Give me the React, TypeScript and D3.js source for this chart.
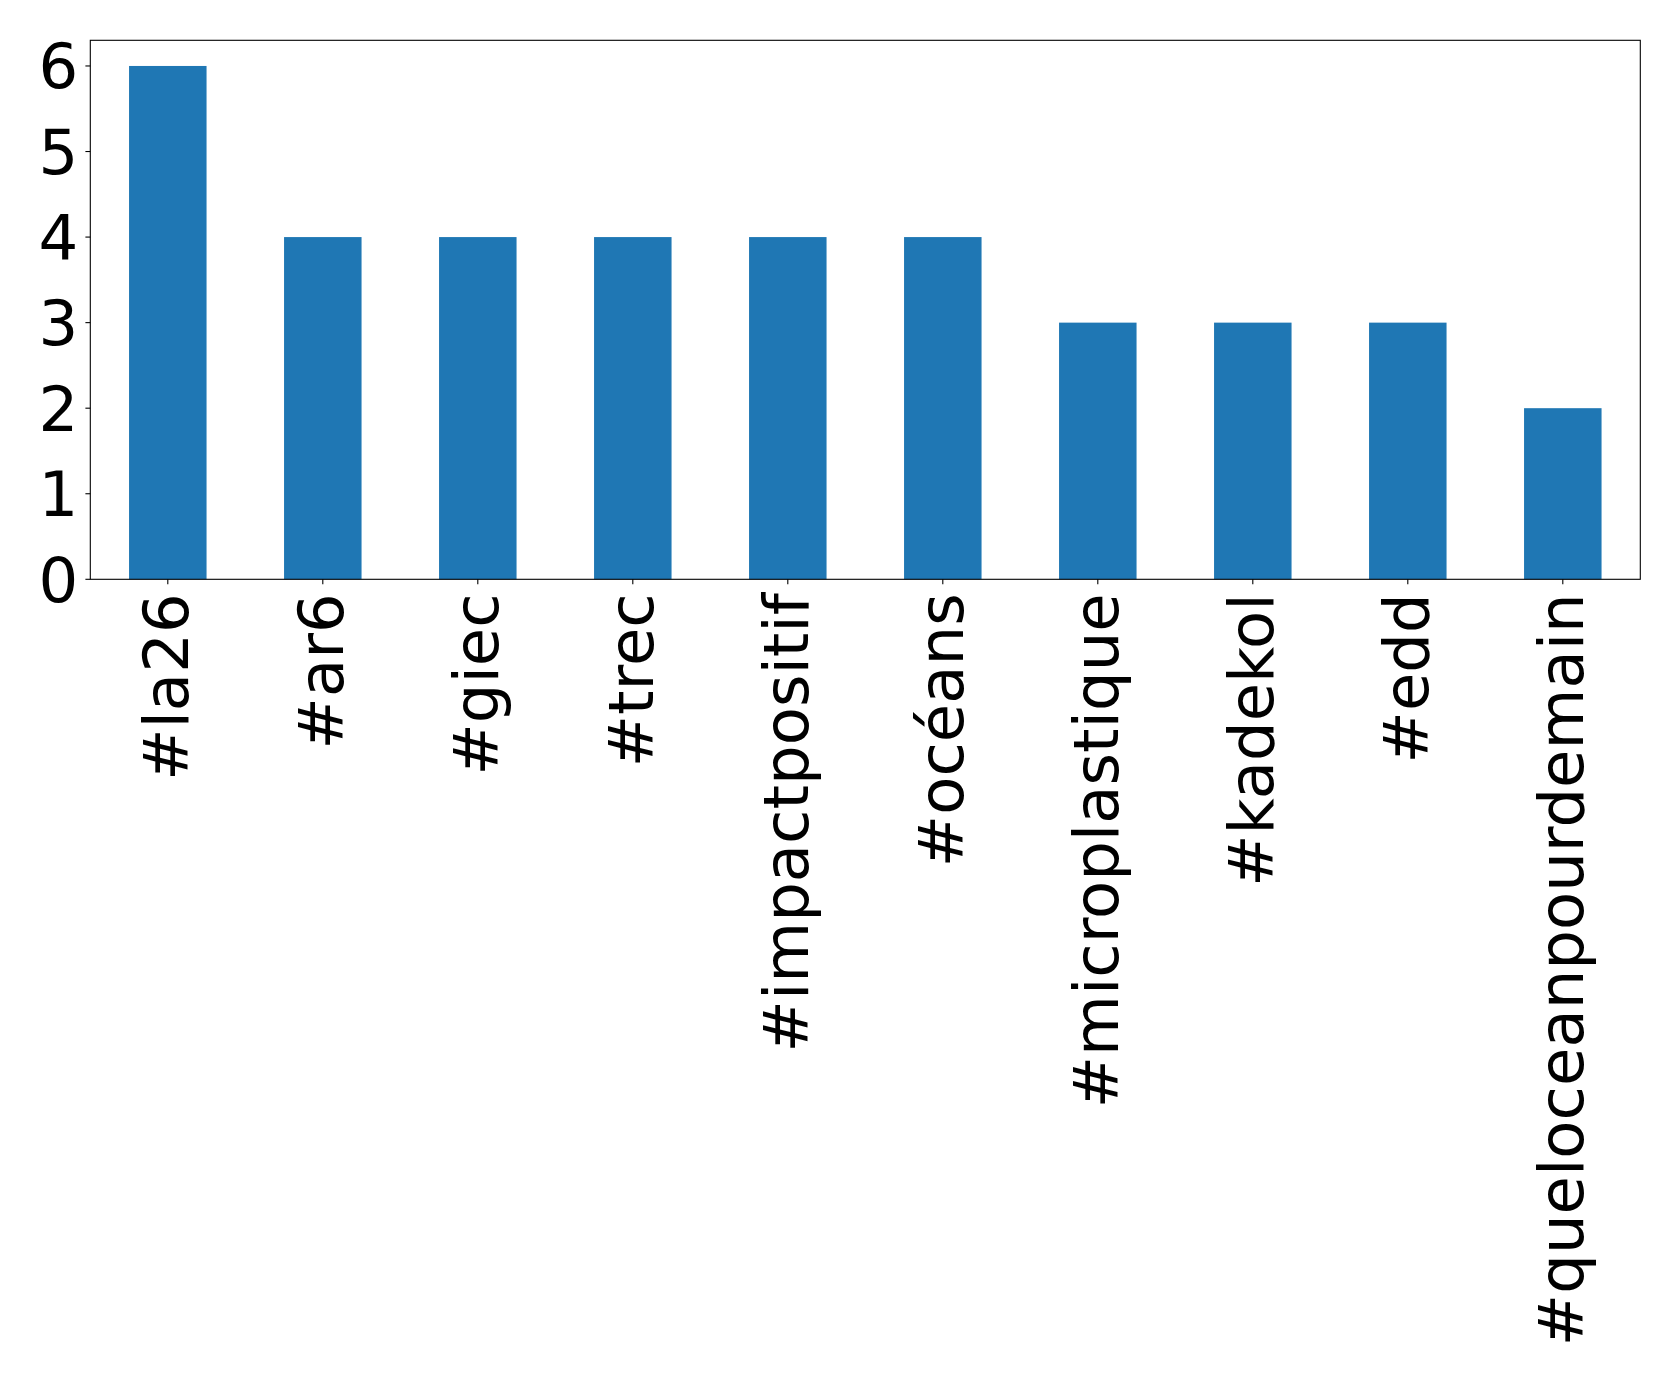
import React from "react";
import * as d3 from "d3";

const categories = ["#la26", "#ar6", "#giec", "#trec", "#impactpositif", "#océans", "#microplastique", "#kadekol", "#edd", "#queloceanpourdemain"];
const values = [6, 4, 4, 4, 4, 4, 3, 3, 3, 2];
const yTicks = [0, 1, 2, 3, 4, 5, 6];

const W = 1679, H = 1381;
const left = 90.3, right = 1640.3, top = 40.3, bottom = 579.3;
const FONT = "DejaVu Sans, sans-serif";
const FS = 62.5;

export default function App() {
  const x = d3.scaleLinear().domain([-0.5, categories.length - 0.5]).range([left, right]);
  const y = d3.scaleLinear().domain([0, 6.3]).range([bottom, top]);
  const bw = x(0.25) - x(-0.25);
  return (
    <svg width={W} height={H} style={{ position: "absolute", left: 0, top: 0, background: "#fff" }} fontFamily={FONT}>
      <rect x={0} y={0} width={W} height={H} fill="#fff" />
      {values.map((v, i) => (
        <rect key={i} x={x(i) - bw / 2} y={y(v)} width={bw} height={y(0) - y(v)} fill="#1f77b4" />
      ))}
      <rect x={left} y={top} width={right - left} height={bottom - top} fill="none" stroke="#000" strokeWidth={1.1} />
      {yTicks.map((t) => (
        <g key={t}>
          <line x1={left - 4.9} x2={left} y1={y(t)} y2={y(t)} stroke="#000" strokeWidth={1.1} />
          <text x={left - 12} y={y(t)} dy="0.36em" textAnchor="end" fontSize={FS} fill="#000">{t}</text>
        </g>
      ))}
      {categories.map((c, i) => (
        <g key={c}>
          <line x1={x(i)} x2={x(i)} y1={bottom} y2={bottom + 4.9} stroke="#000" strokeWidth={1.1} />
          <text transform={`translate(${x(i)},${bottom + 14}) rotate(-90)`} textAnchor="end" dy="0.32em" fontSize={FS} fill="#000">{c}</text>
        </g>
      ))}
    </svg>
  );
}
